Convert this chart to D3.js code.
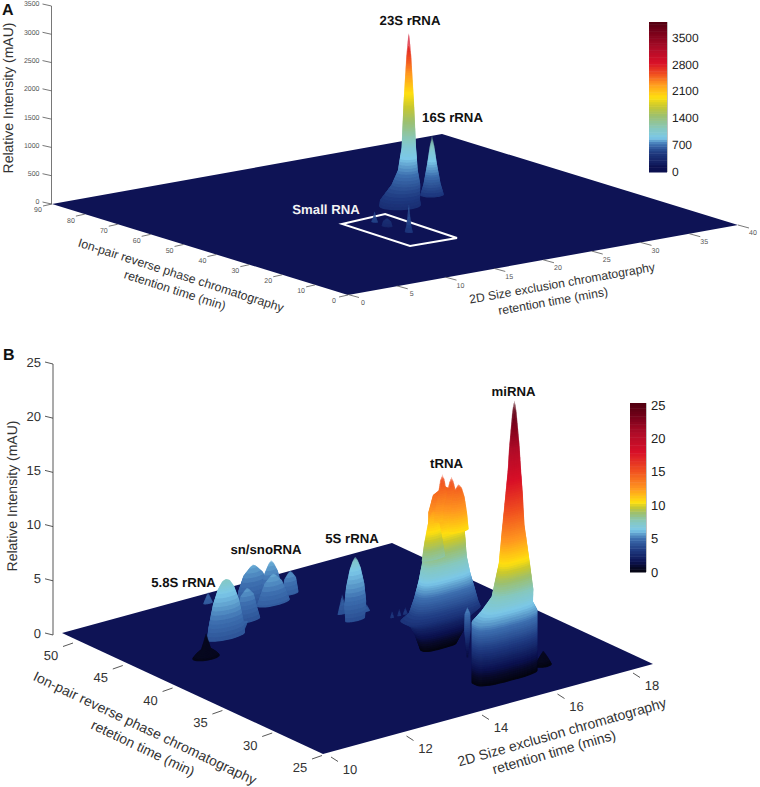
<!DOCTYPE html>
<html><head><meta charset="utf-8">
<script src="https://cdn.jsdelivr.net/npm/d3@7"></script>
<style>html,body{margin:0;background:#fff}svg{display:block;font-family:"Liberation Sans",Arial,sans-serif;text-rendering:geometricPrecision}</style>
</head><body><svg id="c" width="760" height="787"></svg>
<script>
// ---------- tick labels ----------
const zTicksA = [0,500,1000,1500,2000,2500,3000,3500];
const yTicksA = [0,10,20,30,40,50,60,70,80,90];
const xTicksA = [0,5,10,15,20,25,30,35,40];
const barTicksA = [0,700,1400,2100,2800,3500];
const zTicksB = [0,5,10,15,20,25];
const yTicksB = [25,30,35,40,45,50];
const xTicksB = [10,12,14,16,18];
const barTicksB = [0,5,10,15,20,25];
// ---------- colour maps (share of the bar, colour) ----------
const stopShareA = [0,.045,.05,.13,.185,.23,.29,.375,.44,.5,.59,.655,.73,.82,.95,1];
const stopShareB = [0,.03,.06,.13,.2,.25,.3,.35,.385,.415,.495,.6,.71,.82,.93,1];
const stopColors = ["#0c1150","#0c1150","#111a5c","#1f3a80","#3e70b0","#7cc8e8","#86c8c0","#9cc070","#c8c830","#ffe010","#ff9820","#f05020","#d81028","#b00c28","#700018","#500010"];
const stopColorsB = ["#05050f","#080a28","#0c1250","#1f3a80","#3e70b0","#7cc8e8","#86c8c0","#9cc070","#c8c830","#ffe010","#ff9820","#f05020","#d81028","#b00c28","#700018","#500010"];
// ---------- peak profiles: [intensity, half width along x (min), optional centre x] ----------
const r23S = [[3097,.005],[2600,.22],[1800,.45],[1000,.62],[600,.85,23.0],[350,1.23,22.8],[100,1.71,22.2],[0,1.77,22.2]];
const r16S = [[1300,.005],[1100,.21],[800,.42],[450,.73],[250,1.01]];
const rSmallA = [[213,.01],[100,.1],[0,.25]];
const rSmallB = [[142,.02],[80,.3],[0,.4]];
const rSmallC = [[534,.005],[300,.1],[100,.2],[0,.3]];
const rMiRNA = [[25.2,.005,15.83],[24.8,.03,15.83],[24.1,.056,15.83],[20.9,.13,15.83],[19,.16,15.83],[16.3,.22,15.82],[13.6,.275,15.8],[10.5,.37,15.82],[7.5,.51,15.78],[6.4,.63,15.64],[5.6,.8,15.57],[0,.8,15.57]];
const rMiSpike = [[5.6,.005],[5,.07],[3.5,.08],[1,.02]];
const rMiTail = [[1.3,.01],[.6,.12],[0,.2]];
const rTBody = [[14.6,.03],[14,.28],[12.5,.39],[10.9,.44,15.75],[7.8,.55,15.7],[6.3,.63,15.7],[4.8,.74,15.7],[3.5,.85,15.68],[3,.98,15.6],[2.4,.75,15.6],[1.5,.63,15.6],[0,.44,15.54]];
const rTLobe1 = [[12.45,.005],[12.1,.07],[11.2,.15],[9.5,.24],[8,.3]];
const rTLobe2 = [[15.7,.005],[15.2,.06],[14.3,.1],[13,.17],[11.5,.22]];
const rTLobe3 = [[15.5,.005],[15,.06],[14.2,.11],[13,.18],[11.5,.22]];
const rTLobe4 = [[14.85,.005],[14.4,.09],[13.5,.16],[12,.22],[10.5,.26]];
const rFrag1 = [[3.6,.005],[3,.05]];
const rFrag2 = [[3.6,.005],[3,.05]];
const rFrag3 = [[3.6,.005],[3,.06]];
const r5S = [[7.6,.005],[7.2,.07],[6.5,.14],[5,.23],[3.3,.28],[1.8,.25]];
const r5SLeft = [[3.6,.005],[1.8,.12]];
const r5SRight = [[3,.005],[2.3,.1]];
const r58S = [[7.5,.005],[7.3,.1],[6.64,.21],[5.35,.33],[4.4,.385],[3.2,.45],[2.2,.48]];
const r58STip = [[3,.12],[2,.005]];
const rPit = [[2.4,.01],[1.6,.07],[1,.12],[.6,.25],[.25,.33]];
const rSpike = [[3.5,.005],[2.5,.12]];
const rHump1 = [[5.5,.005],[5.3,.08],[4.6,.25],[3.3,.38],[2,.43]];
const rHump2 = [[5.7,.005],[5.4,.07],[4.6,.17],[3.5,.25],[2,.3]];
const rHump3 = [[5,.005],[4.8,.06],[4.3,.15],[3,.21],[2.9,.21]];
const rHump4 = [[5.5,.005],[5.3,.07],[4.7,.22],[3.5,.35],[2.8,.42]];
const rHump5 = [[5.2,.005],[5,.06],[4.5,.17],[3.3,.25],[2.2,.33]];

const svg = d3.select("#c");
function makeCmap(share, colors, top, levels){
  const s = d3.scaleLinear().domain(share.map(v=>v*top)).range(colors).interpolate(d3.interpolateRgb).clamp(true);
  const st = top/levels;
  return z => s((Math.floor(z/st)+.5)*st);
}
function drawPanel(p){
  const g = svg.append("g");
  const fx = d3.scaleLinear(p.xDom,[0,p.ux[0]]), fxY = d3.scaleLinear(p.xDom,[0,p.ux[1]]);
  const fy = d3.scaleLinear(p.yDom,[0,p.uy[0]]), fyY = d3.scaleLinear(p.yDom,[0,p.uy[1]]);
  const zPx = d3.scaleLinear([0,p.zAxis[1]],[0,p.zAxisPx[0]-p.zAxisPx[1]]);
  const proj = (x,y,z=0)=>[p.o[0]+fx(x)+fy(y), p.o[1]+fxY(x)+fyY(y)-zPx(z)];
  const line = d3.line();
  g.append("path").attr("fill","#0e1355").attr("d",line([proj(p.xDom[0],p.yDom[0]),proj(p.xDom[1],p.yDom[0]),proj(p.xDom[1],p.yDom[1]),proj(p.xDom[0],p.yDom[1])])+"Z");
  const cmap = makeCmap(p.share,p.colors,p.barTop,64);
  const surf = makeCmap(p.share,p.colors,p.barTop,128);
  function drawPeak(pk){
    const rows = pk.rows.slice().sort((a,b)=>a[0]-b[0]);
    const zs = rows.map(r=>r[0]);
    const rxS = d3.scaleLinear(zs,rows.map(r=>r[1]));
    const xS = d3.scaleLinear(zs,rows.map(r=>r[2]===undefined?pk.x:r[2]));
    const step = zPx.invert(.5);
    const levels = d3.range(zs[0],zs[zs.length-1],step).concat(zs[zs.length-1]);
    const ts = d3.range(0,2*Math.PI,Math.PI/24);
    const e = 2/(pk.n||2);
    const gp = g.append("g").attr("data-name",pk.name);
    levels.forEach(z=>{
      const rx = rxS(z), ry = rx*pk.ratio, cx = xS(z);
      const pts = ts.map(t=>{
        const c=Math.cos(t), s=Math.sin(t);
        return proj(cx+rx*Math.sign(c)*Math.pow(Math.abs(c),e),pk.y+ry*Math.sign(s)*Math.pow(Math.abs(s),e),z);
      });
      let cz = z;
      if(pk.lo!==undefined){ const k=pk.knee; cz = z<k ? pk.lo+(k-pk.lo)*z/k : z; }
      if(pk.cap!==undefined) cz = Math.min(z,pk.cap);
      gp.append("path").attr("d",line(pts)+"Z").attr("fill",surf(cz));
    });
  }
  p.peaks.filter(k=>!k.after).forEach(drawPeak);
  if(p.box){
    g.append("path").attr("fill","none").attr("stroke","#fff").attr("stroke-width",2)
     .attr("d",line(p.box.map(b=>proj(b[0],b[1])))+"Z");
  }
  p.peaks.filter(k=>k.after).forEach(drawPeak);
  const zY = d3.scaleLinear([0,p.zAxis[1]],p.zAxisPx);
  const xA = d3.scaleLinear(p.xAxisDom,p.xAxisPx), yA = d3.scaleLinear(p.yAxisDom,p.yAxisPx);
  const ax = g.append("g").attr("stroke",p.axisColor).attr("stroke-width",p.axisW).attr("fill","none");
  ax.append("path").attr("d",line([[p.zX,zY(0)],[p.zX,zY(p.zAxis[1])]]));
  if(p.frame){
    ax.append("path").attr("d",line([xA(p.frame[0]),xA(p.frame[1])]));
    ax.append("path").attr("d",line([yA(p.frame[2]),yA(p.frame[3])]));
  }
  const lab = g.append("g").attr("fill",p.tickColor).attr("font-size",p.tickSize);
  p.zTicks.forEach(v=>{
    const y=zY(v);
    ax.append("path").attr("d",line([[p.zX-p.zTick[0],y-p.zTick[1]],[p.zX,y]]));
    lab.append("text").text(v).attr("x",p.zX-p.zTick[0]-p.zLab).attr("y",y-p.zTick[1]).attr("dy",".35em").attr("text-anchor","end");
  });
  p.xTicks.forEach(v=>{
    const q=xA(v);
    ax.append("path").attr("d",line([q,[q[0]+p.xTick[0],q[1]+p.xTick[1]]]));
    lab.append("text").text(v).attr("x",q[0]+p.xLab[0]).attr("y",q[1]+p.xLab[1]).attr("dy",".35em").attr("text-anchor","middle");
  });
  p.yTicks.forEach(v=>{
    const q=yA(v);
    ax.append("path").attr("d",line([q,[q[0]+p.yTick[0],q[1]+p.yTick[1]]]));
    lab.append("text").text(v).attr("x",q[0]+p.yLab[0]).attr("y",q[1]+p.yLab[1]).attr("dy",".35em").attr("text-anchor","middle");
  });
  const barY = d3.scaleLinear([0,p.barTop],p.barPx);
  const st = p.barTop/64;
  d3.range(64).forEach(i=>{
    g.append("rect").attr("x",p.barX[0]).attr("width",p.barX[1]-p.barX[0])
     .attr("y",barY((i+1)*st)).attr("height",barY(i*st)-barY((i+1)*st)+.5)
     .attr("fill",cmap((i+.5)*st));
  });
  g.append("line").attr("x1",p.barX[1]+.5).attr("x2",p.barX[1]+.5).attr("y1",p.barPx[1]).attr("y2",p.barPx[0]).attr("stroke","#999").attr("stroke-width",.6);
  p.barTicks.forEach(v=>{
    g.append("text").text(v).attr("x",p.barX[1]+5).attr("y",barY(v)+p.barDy).attr("dy",".35em").attr("font-size",p.barSize).attr("fill","#222");
  });
  p.titles.forEach(t=>{
    const [s,x,y,a,fs]=t;
    g.append("text").text(s).attr("transform",`translate(${x},${y}) rotate(${a})`).attr("text-anchor","middle").attr("dy",".35em").attr("font-size",fs).attr("fill","#333");
  });
  p.labels.forEach(t=>{
    const [s,x,y,c]=t;
    g.append("text").text(s).attr("x",x).attr("y",y).attr("dy",".35em").attr("text-anchor","middle").attr("font-size",13.2).attr("font-weight","bold").attr("fill",c);
  });
  g.append("text").text(p.tag[0]).attr("x",p.tag[1]).attr("y",p.tag[2]).attr("font-size",16).attr("font-weight","bold").attr("fill","#111");
}
const peaksA = [
 {name:"16S",x:23.56,y:44.3,ratio:2,rows:r16S,lo:300,knee:1000},
 {name:"23S",x:23.1,y:50,ratio:2,rows:r23S,lo:400,knee:1000},
 {name:"small a",x:17.1,y:42.6,ratio:3,rows:rSmallA,lo:520,knee:1000,after:true},
 {name:"small b",x:17.06,y:38.7,ratio:3,rows:rSmallB,lo:330,knee:1000,after:true},
 {name:"small c",x:17.2,y:32.5,ratio:3,rows:rSmallC,lo:450,knee:1000,after:true}
];
const low = {lo:3,knee:6.3};
const peaksB = [
 {name:"spike",x:12.3,y:46.17,ratio:1.4,rows:rSpike,...low},
 {name:"h1",x:13.27,y:45.31,ratio:1.2,rows:rHump1,...low},
 {name:"h2",x:13.64,y:44.91,ratio:1.2,rows:rHump2,...low},
 {name:"h3",x:13.85,y:43.8,ratio:1.2,rows:rHump3,...low},
 {name:"h4",x:13.28,y:43.34,ratio:1.2,rows:rHump4,...low},
 {name:"h5",x:12.45,y:42.81,ratio:1.2,rows:rHump5,...low},
 {name:"5.8S tip",x:11.99,y:41.46,ratio:1.2,rows:r58STip,...low},
 {name:"5.8S",x:11.52,y:41.41,ratio:1.2,rows:r58S,...low},
 {name:"pit",x:11.2,y:42.2,ratio:1.75,rows:rPit,cap:.4},
 {name:"5S left",x:14.43,y:40.77,ratio:1.2,rows:r5SLeft,...low},
 {name:"5S right",x:14.72,y:39.47,ratio:1.2,rows:r5SRight,...low},
 {name:"5S",x:14.43,y:39.47,ratio:1.2,rows:r5S,...low},
 {name:"frag1",x:14.65,y:36.6,ratio:1.75,rows:rFrag1},
 {name:"frag2",x:14.84,y:36.6,ratio:1.75,rows:rFrag2},
 {name:"frag3",x:15.0,y:36.6,ratio:1.75,rows:rFrag3},
 {name:"tBody",x:15.7,y:35.34,ratio:1,n:3,rows:rTBody},
 {name:"t1",x:15.52,y:35.75,ratio:1,rows:rTLobe1},
 {name:"t2",x:15.67,y:35.42,ratio:1,rows:rTLobe2},
 {name:"t3",x:15.82,y:35.08,ratio:1,rows:rTLobe3},
 {name:"t4",x:15.94,y:34.82,ratio:1,rows:rTLobe4},
 {name:"tail",x:16.63,y:28.93,ratio:2,rows:rMiTail,cap:.5},
 {name:"miSpike",x:15.26,y:31.35,ratio:1.75,rows:rMiSpike},
 {name:"miRNA",x:15.59,y:28.8,ratio:1,n:3,rows:rMiRNA}
];
const boxCorners = [[14.57,45],[19.46,46.4],[19.07,23.4],[14.34,23.65]];
drawPanel({
 xDom:[0,40],yDom:[0,90],o:[348,295],ux:[390,-70],uy:[-296,-91],
 zAxis:[0,3500],zAxisPx:[204,6],zX:51.5,zTick:[9,2],zLab:3,zTicks:zTicksA,
 xAxisDom:[0,40],xAxisPx:[[348,294.5],[738,225]],xTicks:xTicksA,xTick:[11,3],xLab:[15,8],
 yAxisDom:[0,90],yAxisPx:[[348,295],[52,204]],yTicks:yTicksA,yTick:[-9,2],yLab:[-14,6],
 axisColor:"#555",axisW:.8,tickColor:"#555",tickSize:7,
 share:stopShareA,colors:stopColors,barTop:3918,barX:[649,667],barPx:[172,22],barTicks:barTicksA,barDy:-.5,barSize:12,
 box:boxCorners,peaks:peaksA,
 titles:[["Relative Intensity (mAU)",8,98,-90,14],
  ["Ion-pair reverse phase chromatography",181,275,17.8,12.3],["retention time (min)",175,290,17.8,12.3],
  ["2D Size exclusion chromatography",562,283,-10,12.2],["retention time (mins)",553,301,-10,12.2]],
 labels:[["23S rRNA",410,20,"#111"],["16S rRNA",452.5,117,"#111"],["Small RNA",326,209,"#f2f2f2"]],
 tag:["A",2,15]
});
drawPanel({
 xDom:[9.76,18.5],yDom:[25,51.2],o:[323,754],ux:[330,-90],uy:[-261,-121],
 zAxis:[0,25],zAxisPx:[635,364],zX:53,zTick:[8,2],zLab:4,zTicks:zTicksB,
 xAxisDom:[10,18],xAxisPx:[[331,757],[633,673]],xTicks:xTicksB,xTick:[7,4.5],xLab:[19,12],frame:[9.76,19.04,25,52],
 yAxisDom:[25,50],yAxisPx:[[322,755.5],[73,643]],yTicks:yTicksB,yTick:[-10,3.5],yLab:[-22,12],
 axisColor:"#444",axisW:.9,tickColor:"#333",tickSize:13,
 share:stopShareB,colors:stopColorsB,barTop:25.3,barX:[630,646],barPx:[572,403],barTicks:barTicksB,barDy:0,barSize:13,
 peaks:peaksB,
 titles:[["Relative Intensity (mAU)",12,496,-90,14],
  ["Ion-pair reverse phase chromatography",145,728,25.5,14],["retetion time (min)",143,748,25.5,14],
  ["2D Size exclusion chromatography",562,732,-16,14],["retention time (mins)",554,752,-16,14]],
 labels:[["miRNA",513.5,391,"#111"],["tRNA",446.5,463,"#111"],["5S rRNA",352,538,"#111"],["sn/snoRNA",266,549,"#111"],["5.8S rRNA",183.5,582,"#111"]],
 tag:["B",3,360]
});
</script></body></html>
